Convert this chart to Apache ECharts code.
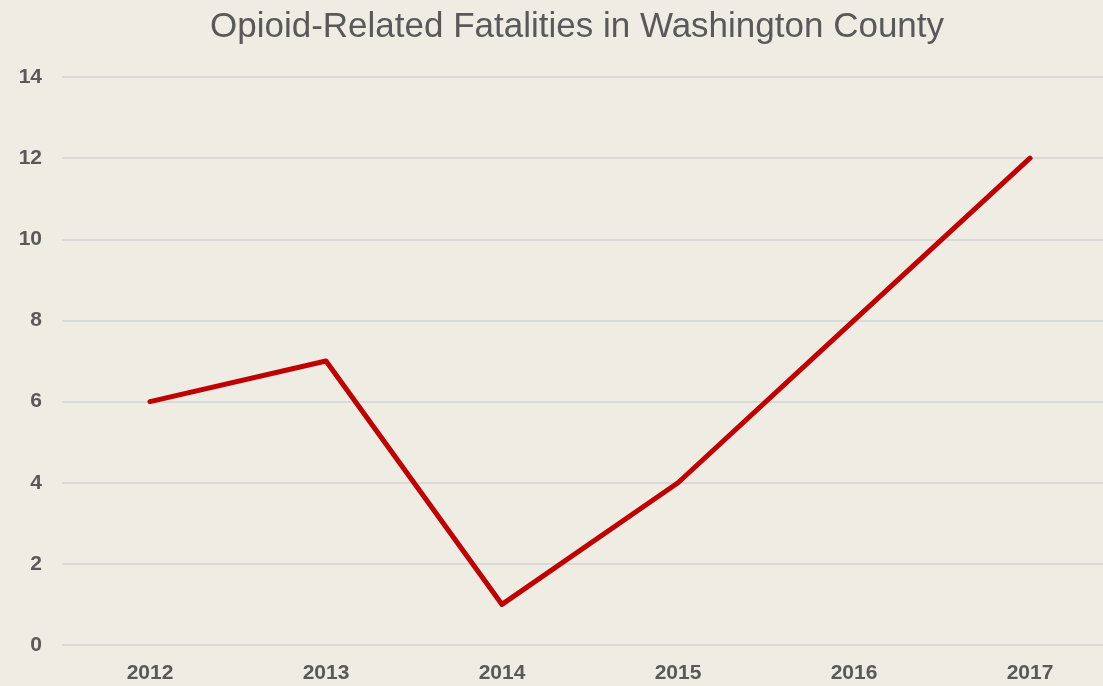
<!DOCTYPE html>
<html><head><meta charset="utf-8">
<script src="https://cdn.jsdelivr.net/npm/echarts@6/dist/echarts.min.js"></script>
<style>html,body{margin:0;padding:0;background:#EFECE4;}#c{width:1103px;height:686px;}</style>
</head><body><div id="c"></div>
<script>
const years = ['2012','2013','2014','2015','2016','2017'];
const fatalities = [6, 7, 1, 4, 8, 12];
const yTicks = [0, 2, 4, 6, 8, 10, 12, 14];

const labelFont = {fontFamily: 'Liberation Sans', fontWeight: 'bold', color: '#595959'};
const chart = echarts.init(document.getElementById('c'), null, {renderer:'canvas'});
chart.setOption({
  backgroundColor: '#EFECE4',
  animation: false,
  title: {
    text: 'Opioid-Related Fatalities in Washington County',
    left: 572, top: 5, textAlign: 'center',
    textStyle: {fontFamily: 'Liberation Sans', fontSize: 35, fontWeight: 'normal', color: '#595959'}
  },
  grid: [
    {left: 62, top: 77, right: 0, height: 568, containLabel: false},
    {left: 150, top: 77, right: 73, height: 568, containLabel: false}
  ],
  xAxis: [
    {gridIndex: 0, type: 'value', show: false, min: 0, max: 1},
    {
      gridIndex: 1, type: 'category', data: years, boundaryGap: false,
      axisLine: {show: false}, axisTick: {show: false}, splitLine: {show: false},
      axisLabel: Object.assign({fontSize: 21, margin: 18}, labelFont)
    }
  ],
  yAxis: [
    {
      gridIndex: 0, type: 'value', min: yTicks[0], max: yTicks[yTicks.length-1], interval: 2,
      axisLine: {show: false}, axisTick: {show: false},
      axisLabel: Object.assign({fontSize: 21, margin: 20}, labelFont),
      splitLine: {lineStyle: {color: '#D9D9D9', width: 2}}
    },
    {
      gridIndex: 1, type: 'value', min: yTicks[0], max: yTicks[yTicks.length-1], interval: 2,
      show: false, splitLine: {show: false}
    }
  ],
  series: [{
    type: 'line', xAxisIndex: 1, yAxisIndex: 1, data: fatalities, symbol: 'none',
    lineStyle: {color: '#C00000', width: 5, cap: 'round', join: 'round'}
  }]
});
</script></body></html>
